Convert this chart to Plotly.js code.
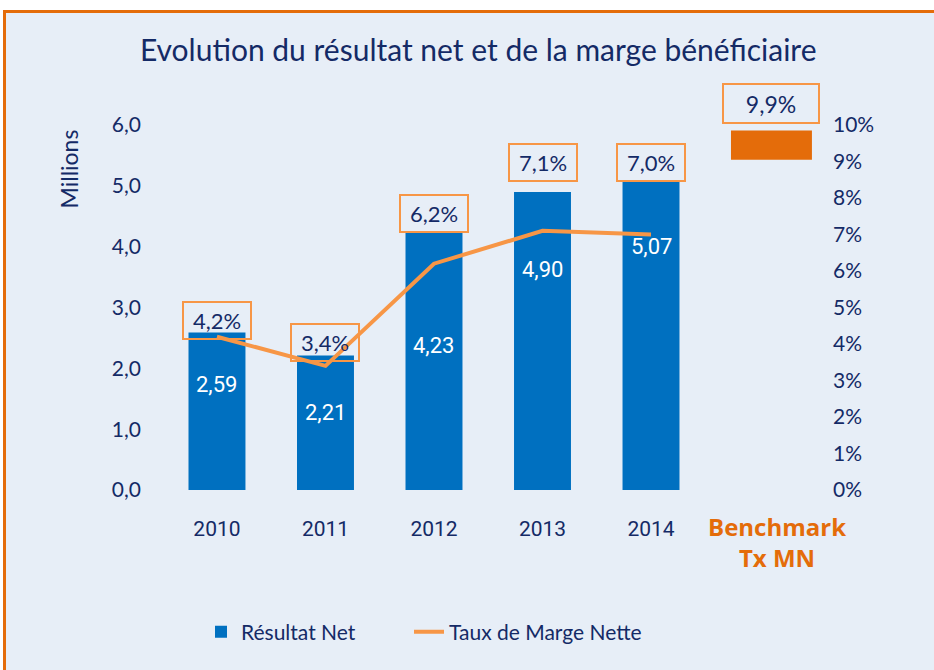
<!DOCTYPE html>
<html>
<head>
<meta charset="utf-8">
<script src="https://cdn.plot.ly/plotly-3.0.1.min.js"></script>
<style>html,body{margin:0;padding:0;background:#fff;}#chart{width:934px;height:670px;}</style>
</head>
<body>
<div id="chart"></div>
<script>
// ---- data ----
var years = ['2010', '2011', '2012', '2013', '2014'];
var resultatNet = [2.59, 2.21, 4.23, 4.90, 5.07];      // millions
var tauxMarge = [4.2, 3.4, 6.2, 7.1, 7.0];            // %
var benchmarkLabel = 'Benchmark<br>Tx MN';
var benchmarkValue = 9.9;                              // %
var leftTicks = [0, 1, 2, 3, 4, 5, 6];
var rightTicks = [0, 1, 2, 3, 4, 5, 6, 7, 8, 9, 10];
var rightTickText = ['0%', '1%', '2%', '3%', '4%', '5%', '6%', '7%', '8%', '9%', '10%'];

// ---- positions / styles ----
var xIdx = years.map(function (_, i) { return i; });
var benchX = 5.11;
var benchBarBase = 9.05, benchBarHeight = 0.8;
var valueLabelFrac = [0.67, 0.58, 0.56, 0.74, 0.79];
var pctLabelY = [2.78, 2.43, 4.55, 5.38, 5.38];
var navy = '#142a66';
var blue = '#0070c0';
var orangeLine = '#f79646';
var orangeDark = '#e46c0a';
var FONT = 'Lato, "Open Sans", sans-serif';
function px2x(p) { return (p - 142) / 690; }
function px2y(p) { return (490 - p) / 365; }

function fr(v, d) { return v.toFixed(d).replace('.', ','); }

var traces = [
  {
    type: 'bar', name: 'Résultat Net', x: xIdx, y: resultatNet,
    marker: { color: blue }, width: 0.525, yaxis: 'y', hoverinfo: 'skip', legend: 'legend'
  },
  {
    type: 'scatter', mode: 'lines', name: 'Taux de Marge Nette', x: xIdx, y: tauxMarge,
    line: { color: orangeLine, width: 4 }, yaxis: 'y2', hoverinfo: 'skip', legend: 'legend2'
  },
  {
    type: 'bar', name: 'Benchmark', x: [benchX], y: [benchBarHeight], base: [benchBarBase],
    marker: { color: orangeDark }, width: 0.746, yaxis: 'y2', showlegend: false, hoverinfo: 'skip'
  }
];

var annotations = [];
resultatNet.forEach(function (v, i) {
  annotations.push({
    x: i, y: v * valueLabelFrac[i], xref: 'x', yref: 'y', text: fr(v, 2), showarrow: false,
    font: { family: 'Roboto, sans-serif', size: 22, color: '#ffffff' }
  });
  annotations.push({
    x: i, y: pctLabelY[i], xref: 'x', yref: 'y', text: fr(tauxMarge[i], 1) + '%', showarrow: false,
    font: { family: FONT, size: 22, color: navy }, bordercolor: orangeLine, borderwidth: 2,
    borderpad: 4, width: 58, height: 27, yanchor: 'middle'
  });
});
annotations.push({
  x: benchX, y: px2y(103), xref: 'x', yref: 'paper', text: fr(benchmarkValue, 1) + '%', showarrow: false,
  yanchor: 'middle',
  font: { family: FONT, size: 23, color: navy }, bordercolor: orangeLine, borderwidth: 2,
  borderpad: 5, width: 84, height: 27
});
annotations.push({
  x: 5.16, y: px2y(508), xref: 'x', yref: 'paper', text: '<b>' + benchmarkLabel + '</b>', showarrow: false,
  yanchor: 'top', font: { family: '"Open Sans", sans-serif', size: 24, color: orangeDark }
});
annotations.push({
  x: px2x(68), y: px2y(128), xref: 'paper', yref: 'paper', text: 'Millions', showarrow: false,
  textangle: -90, yanchor: 'top', xanchor: 'center',
  font: { family: FONT, size: 23, color: navy }
});

var legendFont = { family: FONT, size: 21, color: navy };
var layout = {
  width: 934, height: 670,
  margin: { l: 142, r: 102, t: 125, b: 180 },
  paper_bgcolor: '#ffffff', plot_bgcolor: 'rgba(0,0,0,0)',
  title: {
    text: 'Evolution du résultat net et de la marge bénéficiaire',
    font: { family: FONT, size: 30, color: navy }, x: 0.512, xanchor: 'center', y: 0.925, yanchor: 'middle'
  },
  separators: ', ',
  barmode: 'overlay',
  showlegend: true,
  legend: {
    orientation: 'h', x: px2x(201), xanchor: 'left', y: px2y(632), yanchor: 'middle',
    font: legendFont, bgcolor: 'rgba(0,0,0,0)'
  },
  legend2: {
    orientation: 'h', x: px2x(409), xanchor: 'left', y: px2y(632), yanchor: 'middle',
    font: legendFont, bgcolor: 'rgba(0,0,0,0)'
  },
  xaxis: {
    range: [-0.691, 5.668], tickvals: xIdx, ticktext: years, showgrid: false, zeroline: false,
    showline: false, ticks: '', ticklabelstandoff: 24,
    tickfont: { family: 'Roboto, sans-serif', size: 21, color: navy }
  },
  yaxis: {
    range: [0, 6], tickvals: leftTicks, tickformat: '.1f', showgrid: false, zeroline: false,
    showline: false, ticks: '', tickfont: { family: FONT, size: 21, color: navy }
  },
  yaxis2: {
    range: [0, 10], overlaying: 'y', side: 'right', tickvals: rightTicks, ticktext: rightTickText,
    showgrid: false, zeroline: false, showline: false, ticks: '',
    tickfont: { family: FONT, size: 21, color: navy }
  },
  shapes: [{
    type: 'rect', xref: 'paper', yref: 'paper', layer: 'below',
    x0: px2x(4.5), x1: 1.3, y0: -0.6, y1: px2y(11.5),
    fillcolor: '#e7eef7', line: { color: orangeDark, width: 3 }
  }],
  annotations: annotations
};

Plotly.newPlot('chart', traces, layout, { displayModeBar: false, staticPlot: true });
</script>
</body>
</html>
